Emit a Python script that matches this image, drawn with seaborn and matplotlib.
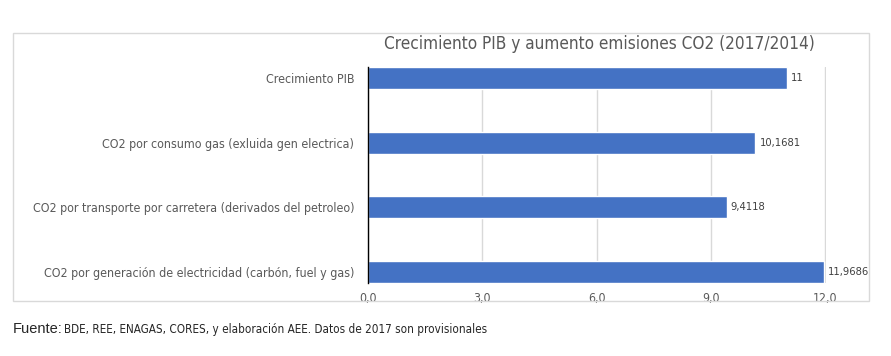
import pandas as pd
import matplotlib.pyplot as plt
import seaborn as sns
from matplotlib.patches import Rectangle

# data
categorias = ['Crecimiento PIB',
              'CO2 por consumo gas (exluida gen electrica)',
              'CO2 por transporte por carretera (derivados del petroleo)',
              'CO2 por generación de electricidad (carbón, fuel y gas)']
valores = [11, 10.1681, 9.4118, 11.9686]
etiquetas = ['11', '10,1681', '9,4118', '11,9686']
ticks_x = [0, 3, 6, 9, 12]

df = pd.DataFrame({'categoria': categorias, 'valor': valores})

sns.set_style('white')
plt.rcParams['font.family'] = ['DejaVu Sans']
plt.rcParams['font.stretch'] = 'condensed'

fig = plt.figure(figsize=(8.91, 3.56), dpi=100)
ax = fig.add_axes([0.4130, 0.2042, 0.5140, 0.6084])

sns.barplot(data=df, x='valor', y='categoria', orient='h', color='#4472C4',
            width=0.34, saturation=1, ax=ax, zorder=3)

ax.set_xlim(0, 12.02)
ax.set_ylim(3.175, -0.175)
ax.set_xticks(ticks_x)
ax.set_xticklabels([f'{t:.1f}'.replace('.', ',') for t in ticks_x])
ax.set_xlabel('')
ax.set_ylabel('')
ax.grid(axis='x', color='#D9D9D9', lw=1, zorder=0)
ax.grid(axis='y', visible=False)
for s in ['top', 'right', 'bottom']:
    ax.spines[s].set_visible(False)
ax.spines['left'].set_color('black')
ax.spines['left'].set_linewidth(1)
ax.spines['left'].set_zorder(5)
ax.tick_params(axis='y', length=0, colors='#595959', labelsize=8.9, pad=10)
ax.tick_params(axis='x', length=0, colors='#595959', labelsize=8.8, pad=6)

ax.bar_label(ax.containers[0], labels=etiquetas, padding=3, fontsize=8,
             color='#404040')

fig.text(0.673, 0.876, 'Crecimiento PIB y aumento emisiones CO2 (2017/2014)',
         ha='center', va='center', fontsize=12.3, color='#595959')

# marco del grafico
fig.patches.append(Rectangle((13 / 891, 1 - 301 / 356), 856 / 891, 268 / 356,
                             transform=fig.transFigure, fill=False,
                             edgecolor='#D9D9D9', lw=1))

fig.text(13 / 891, 1 - 329 / 356, 'Fuente:', ha='left', va='center',
         fontsize=10.5, family=['Liberation Sans', 'DejaVu Sans'],
         stretch='normal')
fig.text(64 / 891, 1 - 330 / 356,
         'BDE, REE, ENAGAS, CORES, y elaboración AEE. Datos de 2017 son provisionales',
         ha='left', va='center', fontsize=8.4)

fig.savefig('out.png', dpi=100)
